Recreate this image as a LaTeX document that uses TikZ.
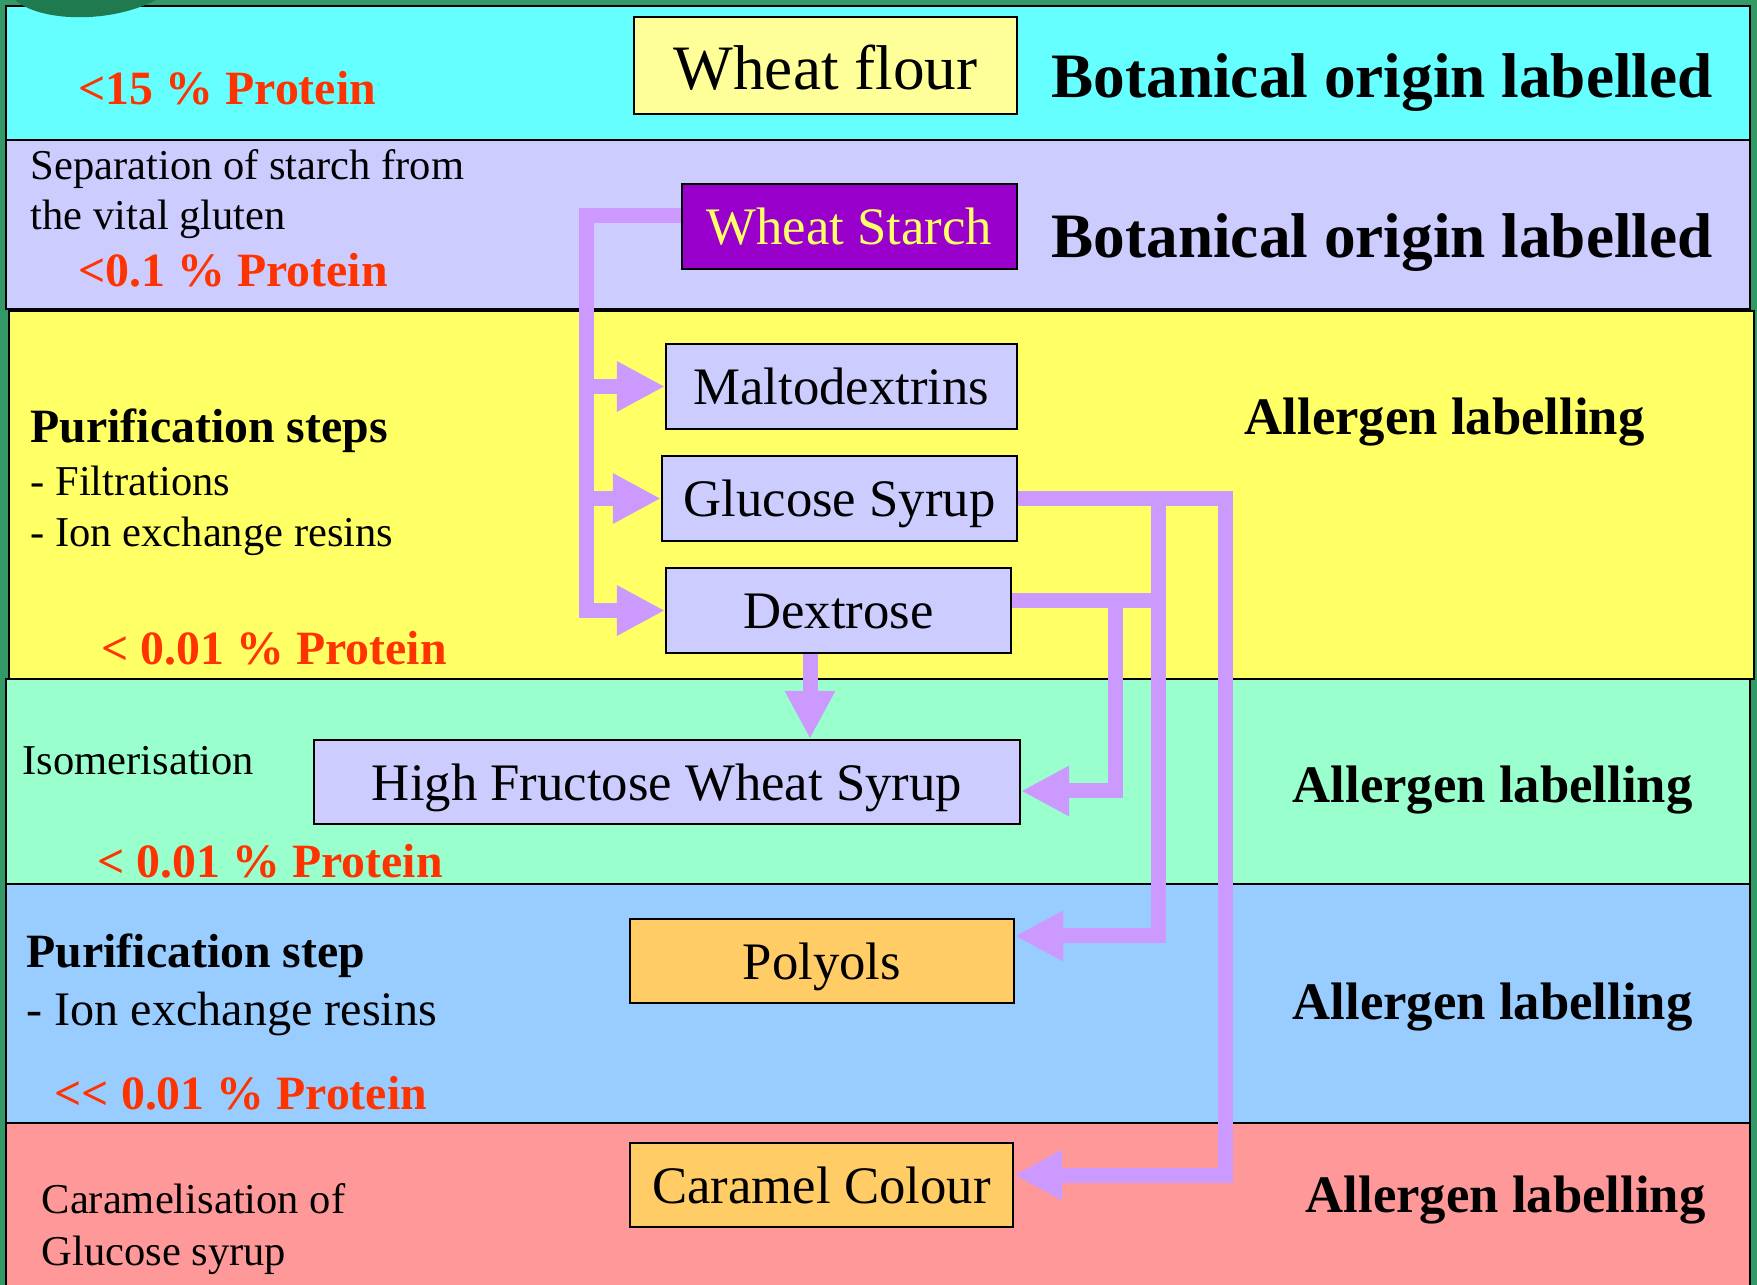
\documentclass[tikz,border=0pt]{standalone}
\usepackage{fontspec}
\setmainfont{Liberation Serif}
\usetikzlibrary{arrows.meta}

\definecolor{bggreen}{HTML}{339966}
\definecolor{blobgreen}{HTML}{1F7A50}
\definecolor{cyanband}{HTML}{66FFFF}
\definecolor{lavband}{HTML}{CCCCFF}
\definecolor{yelband}{HTML}{FFFF66}
\definecolor{mintband}{HTML}{99FFCC}
\definecolor{blueband}{HTML}{99CCFF}
\definecolor{pinkband}{HTML}{FF9999}
\definecolor{flourfill}{HTML}{FFFF99}
\definecolor{starchfill}{HTML}{9900CC}
\definecolor{starchtext}{HTML}{FFFF66}
\definecolor{orangefill}{HTML}{FFCC66}
\definecolor{arrowcol}{HTML}{CC99FF}
\definecolor{protred}{HTML}{FF3300}

\begin{document}
\begin{tikzpicture}[
  band/.style={draw, line width=0.6pt},
  box/.style={draw, line width=0.6pt, inner sep=0pt, minimum height=0.85cm, text height=10.5pt, text depth=0pt, font=\fontsize{15}{18}\selectfont},
  note/.style={anchor=base west, inner sep=0pt, font=\fontsize{12.1}{14.4}\selectfont},
  head/.style={anchor=base west, inner sep=0pt, font=\bfseries\fontsize{13.6}{16}\selectfont},
  prot/.style={head, text=protred},
  tag/.style={anchor=base west, inner sep=0pt, font=\bfseries\fontsize{15}{18}\selectfont},
  botan/.style={anchor=base west, inner sep=0pt, font=\bfseries\fontsize{18}{22}\selectfont},
  pipe/.style={draw=arrowcol, line width=1.5mm},
  flow/.style={pipe, -{Triangle[length=4.8mm,width=4.7mm]}}
]
  \useasboundingbox (0,0) rectangle (17.57,-12.85);
  \clip (0,0) rectangle (17.57,-12.85);
  \fill[bggreen] (0,0) rectangle (17.57,-12.85);

  % bands
  \draw[band, fill=cyanband] (0.06,-0.06) rectangle (17.50,-1.40);
  \draw[band, fill=lavband] (0.06,-1.40) rectangle (17.50,-3.09);
  \draw[band, fill=yelband] (0.09,-3.11) rectangle (17.54,-6.79);
  \draw[band, fill=mintband] (0.06,-6.79) rectangle (17.50,-8.84);
  \draw[band, fill=blueband] (0.06,-8.84) rectangle (17.50,-11.23);
  \draw[band, fill=pinkband] (0.06,-11.23) rectangle (17.50,-13.00);
  \fill[blobgreen] (0.15,0) .. controls (0.4,-0.22) and (1.1,-0.24) .. (1.56,0) -- cycle;

  % products
  \node[box, fill=flourfill, minimum width=3.83cm, minimum height=0.97cm, text height=13.5pt, font=\fontsize{18}{22}\selectfont] (flour) at (8.255,-0.655) {Wheat flour};
  \node[box, fill=starchfill, text=starchtext, minimum width=3.35cm] (ws) at (8.495,-2.265) {Wheat Starch};
  \node[box, fill=lavband, minimum width=3.51cm] (malt) at (8.415,-3.865) {Maltodextrins};
  \node[box, fill=lavband, minimum width=3.55cm] (gluc) at (8.395,-4.985) {Glucose Syrup};
  \node[box, fill=lavband, minimum width=3.45cm] (dext) at (8.385,-6.105) {Dextrose};
  \node[box, fill=lavband, minimum width=7.06cm, minimum height=0.84cm] (hfws) at (6.67,-7.82) {High Fructose Wheat Syrup};
  \node[box, fill=orangefill, minimum width=3.84cm, minimum height=0.84cm] (poly) at (8.22,-9.61) {Polyols};
  \node[box, fill=orangefill, minimum width=3.83cm, minimum height=0.84cm] (cara) at (8.215,-11.85) {Caramel Colour};

  % left column
  \node[prot] (p15) at (0.78,-1.05) {<15 \% Protein};
  \node[note] (sep1) at (0.30,-1.80) {Separation of starch from};
  \node[note] (sep2) at (0.30,-2.30) {the vital gluten};
  \node[prot] (p01) at (0.78,-2.87) {<0.1 \% Protein};
  \node[head] (pur1) at (0.30,-4.43) {Purification steps};
  \node[note] (filt) at (0.30,-4.96) {- Filtrations};
  \node[note] (ion1) at (0.30,-5.47) {- Ion exchange resins};
  \node[prot] (p001a) at (1.01,-6.65) {< 0.01 \% Protein};
  \node[note] (isom) at (0.22,-7.75) {Isomerisation};
  \node[prot] (p001b) at (0.97,-8.78) {< 0.01 \% Protein};
  \node[head] (pur2) at (0.26,-9.68) {Purification step};
  \node[note, font=\fontsize{13.7}{16}\selectfont] (ion2) at (0.26,-10.25) {- Ion exchange resins};
  \node[prot] (p001c) at (0.54,-11.09) {<{}< 0.01 \% Protein};
  \node[note] (car1) at (0.41,-12.13) {Caramelisation of};
  \node[note] (car2) at (0.41,-12.65) {Glucose syrup};

  % right column
  \node[botan] (bot1) at (10.51,-0.98) {Botanical origin labelled};
  \node[botan] (bot2) at (10.51,-2.58) {Botanical origin labelled};
  \node[tag] (all1) at (12.44,-4.35) {Allergen labelling};
  \node[tag] (all2) at (12.92,-8.02) {Allergen labelling};
  \node[tag] (all3) at (12.92,-10.20) {Allergen labelling};
  \node[tag] (all4) at (13.05,-12.12) {Allergen labelling};

  % connectors
  \coordinate (trunk) at (5.86,0);
  \coordinate (railH) at (11.15,0);
  \coordinate (railP) at (11.58,0);
  \coordinate (railC) at (12.25,0);
  \draw[flow] ([yshift=1.1mm]ws.west) -| (trunk |- dext.west) -- (dext.west);
  \draw[flow] (trunk |- malt.west) -- (malt.west);
  \draw[flow] (trunk |- gluc.west) -- (gluc.west);
  \draw[flow] (gluc.east) -- (gluc.east -| railC) |- ([yshift=1mm]cara.east);
  \draw[flow] (gluc.east) -- (gluc.east -| railP) |- ([yshift=2.5mm]poly.east);
  \draw[pipe] ([yshift=1mm]dext.east) -- ([yshift=1mm]dext.east -| railP);
  \draw[flow] ([yshift=1mm]dext.east) -- ([yshift=1mm]dext.east -| railH) |- ([yshift=-0.9mm]hfws.east);
  \draw[flow] ([xshift=-2.85mm]dext.south) -- ([xshift=-2.85mm]dext.south |- hfws.north);
\end{tikzpicture}
\end{document}
